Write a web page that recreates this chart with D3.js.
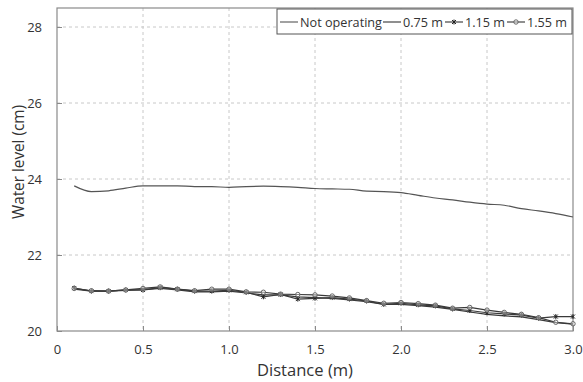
<!DOCTYPE html>
<html><head><meta charset="utf-8">
<script src="https://cdn.jsdelivr.net/npm/d3@7"></script>
<style>body{margin:0;background:#fff}svg{display:block}text{font-family:"Open Sans","Noto Sans",sans-serif;fill:#333}</style>
</head><body><svg id="c" width="583" height="382"></svg>
<script>
const distance = [0.1,0.2,0.3,0.4,0.5,0.6,0.7,0.8,0.9,1.0,1.1,1.2,1.3,1.4,1.5,1.6,1.7,1.8,1.9,2.0,2.1,2.2,2.3,2.4,2.5,2.6,2.7,2.8,2.9,3.0];
const notOperating = [23.82,23.67,23.69,23.76,23.82,23.82,23.82,23.80,23.80,23.78,23.80,23.81,23.80,23.78,23.75,23.74,23.73,23.68,23.67,23.64,23.57,23.50,23.45,23.39,23.34,23.31,23.22,23.16,23.09,23.00];
const s075 = [21.10,21.05,21.05,21.07,21.08,21.12,21.08,21.03,21.03,21.05,21.00,20.95,20.95,20.90,20.88,20.86,20.82,20.77,20.70,20.70,20.67,20.63,20.57,20.50,20.44,20.40,20.37,20.30,20.22,20.18];
const s115 = [21.13,21.05,21.05,21.08,21.08,21.14,21.10,21.05,21.05,21.07,21.02,20.90,20.96,20.84,20.86,20.88,20.84,20.79,20.70,20.73,20.69,20.66,20.58,20.54,20.48,20.45,20.42,20.34,20.38,20.38];
const s155 = [21.12,21.06,21.05,21.08,21.12,21.16,21.10,21.06,21.10,21.10,21.03,21.02,20.97,20.96,20.95,20.92,20.87,20.80,20.73,20.75,20.72,20.68,20.60,20.62,20.55,20.49,20.44,20.35,20.23,20.19];
const xTicks = [0,0.5,1.0,1.5,2.0,2.5,3.0];
const yTicks = [20,22,24,26,28];
const legendLabels = ["Not operating","0.75 m","1.15 m","1.55 m"];

const svg = d3.select("#c");
const L=57, R=573, T=8, B=331;
const x = d3.scaleLinear().domain([0,3]).range([L,R]);
const y = d3.scaleLinear().domain([20,28.5]).range([B,T]);

// grid
svg.append("g").selectAll("line").data(xTicks.slice(1,-1)).join("line")
  .attr("x1",d=>x(d)).attr("x2",d=>x(d)).attr("y1",T).attr("y2",B)
  .attr("stroke","#c8c8c8").attr("stroke-dasharray","3,3");
svg.append("g").selectAll("line").data(yTicks.slice(1)).join("line")
  .attr("x1",L).attr("x2",R).attr("y1",d=>y(d)).attr("y2",d=>y(d))
  .attr("stroke","#c8c8c8").attr("stroke-dasharray","3,3");

// border
svg.append("rect").attr("x",L).attr("y",T).attr("width",R-L).attr("height",B-T)
  .attr("fill","none").attr("stroke","#8a8a8a").attr("stroke-width",1.2);

// axes
const xa = svg.append("g").attr("transform",`translate(0,${B})`)
  .call(d3.axisBottom(x).tickValues(xTicks).tickFormat(d=>d===0?"0":d3.format(".1f")(d)).tickSize(5).tickPadding(9));
const ya = svg.append("g").attr("transform",`translate(${L},0)`)
  .call(d3.axisLeft(y).tickValues(yTicks).tickSize(5).tickPadding(10));
[xa,ya].forEach(a=>{
  a.select(".domain").remove();
  a.selectAll(".tick line").attr("stroke","#8a8a8a");
  a.selectAll("text").style("font-size","13px").style("font-family","'Open Sans',sans-serif").attr("fill","#333");
});
xa.selectAll(".tick line").attr("y2",-5);
ya.selectAll(".tick line").attr("x2",5);

// titles
svg.append("text").attr("x",305).attr("y",376).attr("text-anchor","middle")
  .attr("textLength",96).attr("lengthAdjust","spacingAndGlyphs")
  .style("font-size","17px").text("Distance (m)");
svg.append("text").attr("transform","translate(24,162) rotate(-90)").attr("text-anchor","middle")
  .attr("textLength",114).attr("lengthAdjust","spacingAndGlyphs")
  .style("font-size","17px").text("Water level (cm)");

// lines
const mk = () => d3.line().x((d,i)=>x(distance[i])).y(d=>y(d));
svg.append("path").datum(notOperating).attr("d",mk().curve(d3.curveMonotoneX))
  .attr("fill","none").attr("stroke","#555").attr("stroke-width",1.2);
const series = [{v:s075,m:"none"},{v:s115,m:"star"},{v:s155,m:"circle"}];
series.forEach(s=>{
  svg.append("path").datum(s.v).attr("d",mk()).attr("fill","none").attr("stroke","#3a3a3a").attr("stroke-width",1.2);
});
function drawMarker(g,type,cx,cy){
  if(type==="star"){
    g.append("path").attr("d",`M${cx-2},${cy-2}L${cx+2},${cy+2}M${cx-2},${cy+2}L${cx+2},${cy-2}M${cx},${cy-2.5}L${cx},${cy+2.5}`)
      .attr("stroke","#222").attr("stroke-width",1);
  } else if(type==="circle"){
    g.append("circle").attr("cx",cx).attr("cy",cy).attr("r",2.2).attr("fill","#fff").attr("fill-opacity",0.4).attr("stroke","#666").attr("stroke-width",1);
  }
}
series.forEach(s=>{
  const g=svg.append("g");
  s.v.forEach((d,i)=>drawMarker(g,s.m,x(distance[i]),y(d)));
});

// legend
const lg = svg.append("g");
lg.append("rect").attr("x",277).attr("y",9).attr("width",295).attr("height",25)
  .attr("fill","#fff").attr("stroke","#555").attr("stroke-width",1);
const lx=[280,383,445,507];
const tl=[82,40,40,40];
const types=["none","none","star","circle"];
legendLabels.forEach((t,i)=>{
  lg.append("line").attr("x1",lx[i]).attr("x2",lx[i]+18).attr("y1",22).attr("y2",22)
    .attr("stroke",i===0?"#555":"#333").attr("stroke-width",1.1);
  drawMarker(lg,types[i],lx[i]+9,22);
  lg.append("text").attr("x",lx[i]+20).attr("y",27).attr("textLength",tl[i]).attr("lengthAdjust","spacingAndGlyphs")
    .style("font-size","13px").text(t);
});
</script></body></html>
